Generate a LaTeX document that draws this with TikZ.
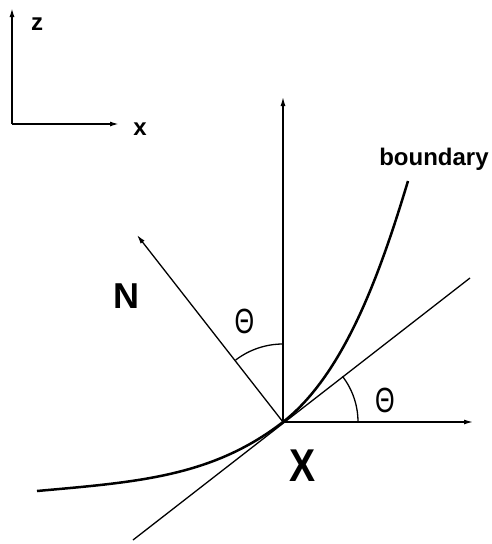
\documentclass[tikz,border=0pt]{standalone}
\usepackage{fontspec}
\setmainfont{Liberation Sans}
\usetikzlibrary{arrows.meta}

\begin{document}
\begin{tikzpicture}[
  x=1pt,y=-1pt,
  arr/.style={-{Latex[length=9pt,width=5pt]}},
  axl/.style={line width=1.6pt},
  ln/.style={line width=1.3pt},
  bnd/.style={line width=2.5pt},
  lbl/.style={font=\bfseries\fontsize{24}{28}\selectfont,inner sep=0pt},
  big/.style={font=\bfseries\fontsize{36}{40}\selectfont,inner sep=0pt},
  ang/.style={font=\fontsize{35}{38}\selectfont,inner sep=0pt,xscale=0.72}
]
\useasboundingbox (0,0) rectangle (492,544);
% frame axes
\coordinate (c)  at (12,124);
\coordinate (cz) at (12,8);
\coordinate (cx) at (119,124);
\draw[arr,axl] (c) -- (cz);
\draw[arr,axl] (c) -- (cx);
\node[lbl] (lz) at (37,24)  {z};
\node[lbl] (lx) at (140,129) {x};
% point X and its lines
\coordinate (O)   at (283,422);
\coordinate (up)  at (283,97);
\coordinate (rt)  at (473,422);
\coordinate (nrm) at (137,235);
\coordinate (tA)  at (133,540);
\coordinate (tB)  at (470,278);
\coordinate (bA)  at (37,491);
\coordinate (bB)  at (408,181);
\draw[arr,ln] (O) -- (up);
\draw[arr,ln] (O) -- (rt);
\draw[arr,ln] (O) -- (nrm);
\draw[ln] (tA) -- (tB);
\draw[bnd] (bA) .. controls (137,482) and (212,477) .. (O)
               .. controls (346,373) and (382,267) .. (bB);
% angles
\draw[ln] (O) ++(0,-78) arc[start angle=90,end angle=127.4,radius=78pt];
\draw[ln] (O) ++(75,0) arc[start angle=0,end angle=37.5,radius=75pt];
\node[ang] (th1) at (244.5,321) {Θ};
\node[ang] (th2) at (385,400) {Θ};
% labels
\node[big] (lN) at (126.5,296) {N};
\node[big,font=\bfseries\fontsize{46}{50}\selectfont,xscale=0.85] (lX) at (303,466) {X};
\node[lbl] (lb) at (434,159) {boundary};
\end{tikzpicture}
\end{document}
